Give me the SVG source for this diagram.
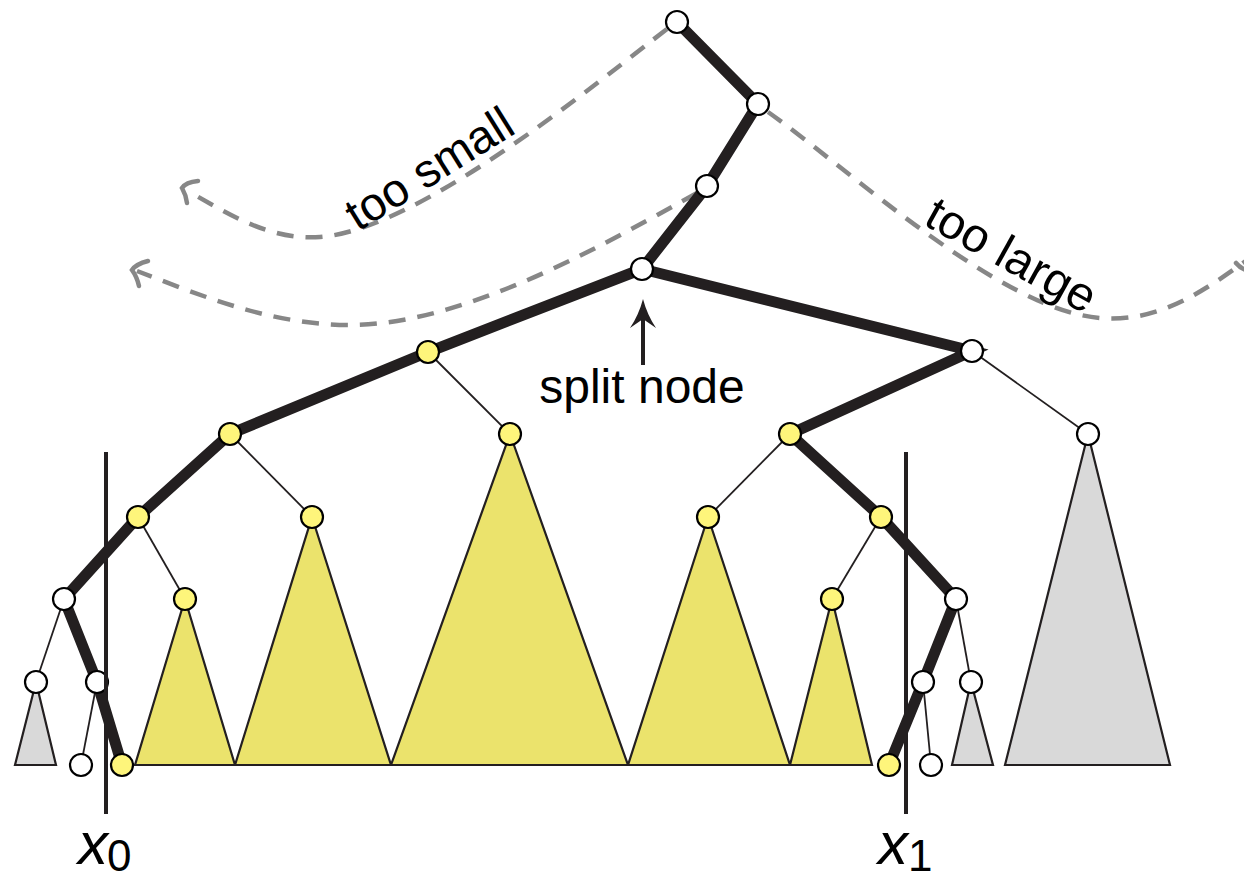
<svg xmlns="http://www.w3.org/2000/svg" width="1244" height="882" viewBox="0 0 1244 882">
<style>
.bg{fill:#ffffff}
.dash{fill:none;stroke:#878787;stroke-width:4.5;stroke-dasharray:17 12}
.head{fill:none;stroke:#878787;stroke-width:4.5;stroke-linecap:round}
.bold{stroke:#231f20;stroke-width:11;stroke-linecap:butt}
.thin{stroke:#231f20;stroke-width:1.8}
.w{fill:#ffffff;stroke:#000000;stroke-width:2.2}
.y{fill:#fef57b;stroke:#000000;stroke-width:2.2}
.ty{fill:#ebe36c;stroke:#231f20;stroke-width:2.2;stroke-linejoin:miter}
.tg{fill:#d9d9d9;stroke:#231f20;stroke-width:2.2}
.lbl{font-family:"Liberation Sans",Arial,Helvetica,sans-serif;fill:#000000}
.axis{stroke:#231f20;stroke-width:4}
</style>
<rect class="bg" x="0" y="0" width="1244" height="882"/>

<g id="search-paths">
  <path class="dash" d="M 667 29 C 600 80, 420 230, 320 237 C 270 240.5, 230 215, 188 191"/>
  <path class="head" d="M 198 181 Q 186 182 182 188 Q 186 195 187 203"/>
  <path class="dash" d="M 697 193 C 620 235, 470 325, 350 325 C 270 325, 200 295, 137 271"/>
  <path class="head" d="M 148 261 Q 136 264 132 270 Q 137 277 139 286"/>
  <path class="dash" d="M 768 112 C 850 170, 1000 310, 1100 318 C 1160 323, 1205 290, 1250 258"/>
  <path class="head" d="M 1236 263 Q 1240 268 1246 270"/>
  <text class="lbl" font-size="47" transform="translate(358 232) rotate(-32)">too small</text>
  <text class="lbl" font-size="48" transform="translate(922 224) rotate(29)">too large</text>
</g>

<g id="connectors">
  <line class="thin" x1="428" y1="352" x2="510" y2="434"/>
  <line class="thin" x1="230" y1="434" x2="312" y2="517"/>
  <line class="thin" x1="138" y1="517" x2="185" y2="599"/>
  <line class="thin" x1="64" y1="599" x2="36" y2="682"/>
  <line class="thin" x1="97" y1="682" x2="81" y2="765"/>
  <line class="thin" x1="972" y1="351" x2="1088" y2="434"/>
  <line class="thin" x1="790" y1="434" x2="708" y2="517"/>
  <line class="thin" x1="881" y1="517" x2="832" y2="599"/>
  <line class="thin" x1="956" y1="599" x2="971" y2="682"/>
  <line class="thin" x1="923" y1="682" x2="931" y2="765"/>
  <polyline class="bold" fill="none" points="677,22 758,104 707,186 642,269"/>
  <polyline class="bold" fill="none" points="642,269 428,352 230,434 138,517 64,599 97,682 122,765"/>
  <polyline class="bold" fill="none" points="642,269 972,351 790,434 881,517 956,599 923,682 889,765"/>
  <line class="thin" x1="122" y1="765" x2="136" y2="765"/>
</g>

<g id="node-a"><circle class="w" cx="677" cy="22" r="11"/></g>
<g id="node-b"><circle class="w" cx="758" cy="104" r="11"/></g>
<g id="node-c"><circle class="w" cx="707" cy="186" r="11"/></g>
<g id="node-split"><circle class="w" cx="642" cy="269" r="11"/></g>
<g id="node-l1"><circle class="y" cx="428" cy="352" r="11"/></g>
<g id="node-r1"><circle class="w" cx="972" cy="351" r="11"/></g>
<g id="node-l2"><circle class="y" cx="230" cy="434" r="11"/></g>
<g id="node-l2b"><polygon class="ty" points="510,434 628,765 391,765"/><circle class="y" cx="510" cy="434" r="11"/></g>
<g id="node-r2"><circle class="y" cx="790" cy="434" r="11"/></g>
<g id="node-r2b"><polygon class="tg" points="1088,434 1170,765 1005,765"/><circle class="w" cx="1088" cy="434" r="11"/></g>
<g id="node-l3"><circle class="y" cx="138" cy="517" r="11"/></g>
<g id="node-l3b"><polygon class="ty" points="312,517 391,765 235,765"/><circle class="y" cx="312" cy="517" r="11"/></g>
<g id="node-r3a"><polygon class="ty" points="708,517 790,765 628,765"/><circle class="y" cx="708" cy="517" r="11"/></g>
<g id="node-r3b"><circle class="y" cx="881" cy="517" r="11"/></g>
<g id="node-l4"><circle class="w" cx="64" cy="599" r="11"/></g>
<g id="node-l4b"><polygon class="ty" points="185,599 235,765 135,765"/><circle class="y" cx="185" cy="599" r="11"/></g>
<g id="node-r4a"><polygon class="ty" points="832,599 872,765 790,765"/><circle class="y" cx="832" cy="599" r="11"/></g>
<g id="node-r4b"><circle class="w" cx="956" cy="599" r="11"/></g>
<g id="node-l5a"><polygon class="tg" points="36,682 56,765 15,765"/><circle class="w" cx="36" cy="682" r="11"/></g>
<g id="node-l5b"><circle class="w" cx="97" cy="682" r="11"/></g>
<g id="node-r5a"><circle class="w" cx="923" cy="682" r="11"/></g>
<g id="node-r5b"><polygon class="tg" points="971,682 993,765 952,765"/><circle class="w" cx="971" cy="682" r="11"/></g>
<g id="node-l6a"><circle class="w" cx="81" cy="765" r="11"/></g>
<g id="node-l6b"><circle class="y" cx="122" cy="765" r="11"/></g>
<g id="node-r6a"><circle class="y" cx="889" cy="765" r="11"/></g>
<g id="node-r6b"><circle class="w" cx="931" cy="765" r="11"/></g>

<g id="split-label">
  <line x1="643" y1="365" x2="643" y2="314" stroke="#231f20" stroke-width="4"/>
  <path d="M 643 299 C 640 310 636 319 630 328 L 643 319 L 656 328 C 650 319 646 310 643 299 Z" fill="#231f20"/>
  <text class="lbl" x="642" y="403" font-size="48" text-anchor="middle" fill="#231f20">split node</text>
</g>

<g id="x0">
  <line class="axis" x1="106" y1="452" x2="106" y2="814"/>
  <text class="lbl" x="78" y="864" font-size="60" fill="#231f20"><tspan font-style="italic">x</tspan><tspan font-size="44" dx="-1" dy="7">0</tspan></text>
</g>
<g id="x1">
  <line class="axis" x1="906" y1="452" x2="906" y2="814"/>
  <text class="lbl" x="878" y="864" font-size="60" fill="#231f20"><tspan font-style="italic">x</tspan><tspan font-size="44" dx="0" dy="7">1</tspan></text>
</g>
</svg>
